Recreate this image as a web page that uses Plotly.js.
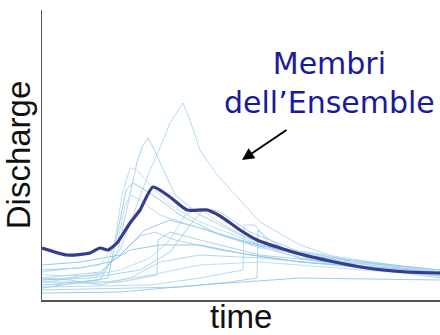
<!DOCTYPE html>
<html>
<head>
<meta charset="utf-8">
<script src="https://cdn.plot.ly/plotly-3.0.1.min.js"></script>
<style>html,body{margin:0;padding:0;background:#fff;}#chart{width:440px;height:335px;}</style>
</head>
<body>
<div id="chart"></div>
<script>
// Ensemble mean (dark line)
var meanTime = [0, 25, 48, 58, 66, 75, 88, 98, 111, 128, 145, 165, 178, 198, 215, 238, 258, 288, 325, 365, 398];
var meanDischarge = [52, 45, 47, 52, 50, 57, 77, 90, 113, 103, 90, 90, 84, 70, 60, 52, 46, 39, 32, 28, 27];

// Ensemble members (thin lines)
var m1Time = [0, 58, 78, 108, 120, 128, 141, 148, 158, 175, 198, 218, 258, 308, 398];
var m1Discharge = [20, 25, 50, 130, 157, 177, 197, 180, 150, 125, 100, 78, 55, 38, 30];
var m2Time = [0, 58, 76, 86, 95, 101, 106, 111, 120, 133, 158, 198, 258, 398];
var m2Discharge = [15, 20, 50, 95, 138, 155, 162, 153, 133, 105, 85, 65, 45, 25];
var m3Time = [0, 63, 73, 80, 88, 95, 108, 128, 158, 218, 398];
var m3Discharge = [17, 28, 60, 105, 132, 130, 115, 95, 78, 55, 28];
var m4Time = [0, 66, 76, 84, 91, 103, 118, 138, 178, 258, 398];
var m4Discharge = [12, 22, 70, 110, 117, 110, 100, 85, 65, 42, 24];
var m5Time = [0, 58, 78, 98, 113, 133, 178, 258, 398];
var m5Discharge = [22, 28, 45, 64, 68, 60, 50, 38, 25];
var m6Time = [0, 38, 68, 88, 118, 158, 208, 258, 398];
var m6Discharge = [30, 32, 38, 50, 55, 55, 45, 38, 28];
var m7Time = [0, 48, 78, 108, 128, 143, 158, 173, 218, 278, 398];
var m7Discharge = [25, 24, 30, 42, 60, 85, 92, 80, 55, 40, 28];
var m8Time = [0, 78, 115, 116, 128, 158, 218, 398];
var m8Discharge = [18, 18, 25, 60, 68, 60, 45, 26];
var m9Time = [0, 108, 158, 201, 202, 213, 228, 278, 398];
var m9Discharge = [13, 15, 22, 30, 75, 75, 55, 38, 24];
var m10Time = [0, 138, 188, 215, 216, 228, 258, 398];
var m10Discharge = [10, 13, 18, 22, 70, 60, 42, 22];
var m11Time = [0, 58, 108, 158, 218, 298, 398];
var m11Discharge = [15, 17, 25, 35, 38, 32, 24];
var m12Time = [0, 78, 158, 258, 398];
var m12Discharge = [7, 8, 15, 22, 20];
var m13Time = [0, 28, 58, 88, 118, 158, 218, 398];
var m13Discharge = [22, 20, 15, 22, 38, 45, 42, 26];
var m14Time = [0, 38, 78, 103, 128, 158, 198, 258, 398];
var m14Discharge = [35, 38, 45, 70, 80, 72, 60, 45, 30];
var m15Time = [0, 58, 76, 83, 89, 98, 118, 158, 218, 398];
var m15Discharge = [28, 35, 60, 95, 105, 100, 85, 72, 52, 28];
var m16Time = [0, 48, 98, 128, 148, 163, 178, 208, 258, 398];
var m16Discharge = [20, 22, 30, 48, 75, 92, 88, 68, 48, 26];

var memberTimes = [m1Time, m2Time, m3Time, m4Time, m5Time, m6Time, m7Time, m8Time, m9Time, m10Time, m11Time, m12Time, m13Time, m14Time, m15Time, m16Time];
var memberDischarges = [m1Discharge, m2Discharge, m3Discharge, m4Discharge, m5Discharge, m6Discharge, m7Discharge, m8Discharge, m9Discharge, m10Discharge, m11Discharge, m12Discharge, m13Discharge, m14Discharge, m15Discharge, m16Discharge];
var memberColors = ['#a9d5ee', '#9fcde9', '#b3daef', '#8fc4e4', '#a3d0ea', '#86bfe2', '#b0d8ee', '#9acbe8'];

var traces = [];
for (var i = 0; i < memberTimes.length; i++) {
  traces.push({
    x: memberTimes[i], y: memberDischarges[i], type: 'scatter', mode: 'lines',
    line: {color: memberColors[i % memberColors.length], width: 1},
    opacity: 0.85, hoverinfo: 'skip'
  });
}
traces.push({
  x: meanTime, y: meanDischarge, type: 'scatter', mode: 'lines',
  line: {color: '#363d8d', width: 3.2, shape: 'spline', smoothing: 0.6}
});

var axisCommon = {
  showline: true, linecolor: '#555', linewidth: 1.5, showticklabels: false,
  ticks: '', showgrid: false, zeroline: false, fixedrange: true
};

var titleFont = {family: 'Liberation Sans, Arial, sans-serif', size: 33, color: '#111'};

var layout = {
  width: 440, height: 335,
  margin: {l: 42, r: 0, t: 10, b: 35},
  paper_bgcolor: '#fff', plot_bgcolor: '#fff',
  showlegend: false,
  xaxis: Object.assign({}, axisCommon, {range: [0, 398]}),
  yaxis: Object.assign({}, axisCommon, {
    range: [0, 290],
    title: {text: 'Discharge', font: titleFont, standoff: 2}
  }),
  annotations: [
    {xref: 'paper', yref: 'paper', x: 0.5, y: 0, text: 'time', showarrow: false,
     font: titleFont, xanchor: 'center', yanchor: 'top', yshift: 3, borderpad: 0},
    {xref: 'x', yref: 'y', x: 287, y: 217, text: 'Membri<br>dell’Ensemble', showarrow: false,
     font: {family: 'DejaVu Sans, Verdana, sans-serif', size: 30, color: '#1a1a9c'}, align: 'center',
     xanchor: 'center', yanchor: 'middle'},
    {xref: 'x', yref: 'y', x: 200, y: 140, text: '', showarrow: true, ax: 46, ay: -31,
     arrowhead: 2, arrowsize: 1.2, arrowwidth: 2, arrowcolor: '#000'}
  ]
};

Plotly.newPlot('chart', traces, layout, {displayModeBar: false, staticPlot: true});
</script>
</body>
</html>
